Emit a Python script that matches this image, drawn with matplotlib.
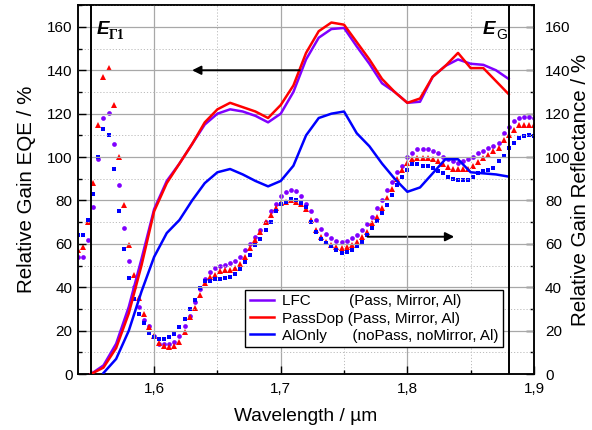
import matplotlib
matplotlib.use('Agg')
import matplotlib.pyplot as plt
from matplotlib.ticker import MultipleLocator, FuncFormatter
import numpy as np

plt.rcParams['font.family'] = ['Liberation Sans', 'DejaVu Sans']

# EQE curves (left axis), sampled every 10 nm
lam_eqe = [1.55, 1.56, 1.57, 1.58, 1.59, 1.60, 1.61, 1.62, 1.63, 1.64, 1.65, 1.66,
           1.67, 1.68, 1.69, 1.70, 1.71, 1.72, 1.73, 1.74, 1.75, 1.76, 1.77, 1.78,
           1.79, 1.80, 1.81, 1.82, 1.83, 1.84, 1.85, 1.86, 1.87, 1.88]
eqe_lfc = [0, 4, 14, 31, 53, 76, 89, 97, 106, 115, 120, 122, 121, 119, 116, 120, 130,
           145, 155, 159, 159.5, 151, 143, 134, 130, 125, 125.5, 137, 142, 145, 143,
           142.5, 140, 136]
eqe_passdop = [0, 3, 12, 28, 50, 75, 88, 97, 106, 116, 122, 125, 123, 121, 118, 124,
               133, 148, 158, 162, 161, 153, 145, 136, 130, 125, 127, 137, 142, 148,
               141, 141, 135, 129]
eqe_alonly = [np.nan, 0.5, 7, 20, 38, 54, 65, 71, 80, 88, 93, 94.5, 92, 89, 86.5, 89,
              96, 110, 118, 120, 121, 111, 105, 97, 90, 84, 86, 92.5, 99, 99, 93,
              92.5, 92, 91]

# reflectance (right axis), sampled every 4 nm from 1.54 to 1.90 um
lam_refl = np.round(np.arange(91) * 0.004 + 1.54, 3)
refl_lfc = [54, 54, 62, 77, 99, 118, 120.5, 106, 87, 67.5,
            52, 40, 31, 25, 22, 17.5, 14, 14, 14, 15,
            17.5, 22, 27, 33, 39, 44, 47, 49, 50, 50.4,
            51, 52, 54, 57, 60, 63, 66.5, 70, 75, 78.5,
            82, 84, 85, 84.5, 82, 78.5, 75, 71, 67, 64.7,
            62.8, 61.5, 61, 61.5, 62.8, 64, 66.5, 69, 72.6, 76.6,
            80.4, 84.6, 88.7, 93, 96, 100, 102, 103.5, 103.5, 103.5,
            102.6, 101.7, 100, 99, 98, 97.5, 98, 99, 100, 101.7,
            102.6, 104, 105, 106.6, 111, 114, 116.6, 118, 118.6, 118.6,
            118]
refl_passdop = [57, 58.7, 70, 88, 115, 137, 141, 124, 100, 78,
                59.6, 45.7, 35, 27.7, 21.7, 17.6, 14.3, 12.9, 12.5, 12.9,
                15, 19.4, 26.3, 30.5, 36.5, 42, 44.8, 45.8, 47.6, 48,
                48.1, 49, 50.8, 54, 58.2, 62, 65.6, 70, 73.5, 76.6,
                79, 79.5, 80, 79.5, 78.5, 76, 71, 66.5, 63.4, 61,
                59.6, 58.7, 58, 58.7, 59.6, 61, 63.4, 65.6, 69.8, 72.6,
                76.7, 81, 85.5, 90, 94, 97.5, 99, 99.5, 99.5, 99.4,
                99, 98, 96.6, 95.4, 94.6, 94.3, 94.3, 94.7, 96, 97.8,
                99.7, 101, 102.6, 104.4, 107.7, 110.4, 112.7, 114.6, 115, 115,
                114.6]
refl_alonly = [64, 64, 71, 83, 100, 113, 110, 94.6, 75, 57.6,
               44.4, 34.7, 27.7, 23.6, 19, 17, 16, 16, 17, 18.5,
               21.7, 25.4, 30, 34, 39.6, 43, 43, 43.8, 44, 44.4,
               44.8, 46, 48.5, 51.8, 55, 59.6, 62.4, 66.5, 70, 75,
               78.5, 79.5, 80.5, 80, 79, 77, 70, 65.6, 62.4, 60.5,
               59, 57, 56, 56.4, 57, 59, 61, 64, 67.5, 70.7,
               74.4, 78, 82.7, 87, 90.6, 94, 97, 97, 96, 95.7,
               95, 93.8, 92.7, 91, 90, 89.6, 89.6, 89.6, 91, 92.7,
               93.4, 94, 95, 98, 100.7, 104.4, 106.7, 108.6, 109.5, 110,
               109.5]

labels = ['LFC         (Pass, Mirror, Al)',
          'PassDop (Pass, Mirror, Al)',
          'AlOnly      (noPass, noMirror, Al)']
colors = ['#8000ff', '#ff0000', '#0000ff']
e_gamma1 = 1.55
e_g = 1.88

fig = plt.figure(figsize=(5.92, 4.30), dpi=100)
ax = fig.add_axes([0.132, 0.130, 0.770, 0.858])
ax2 = ax.twinx()

comma = FuncFormatter(lambda v, p: f'{v:.1f}'.replace('.', ','))

# grid
ax.set_axisbelow(True)
ax.grid(True, which='major', color='#a8a8a8', lw=0.9, ls='-')
ax.grid(True, which='minor', color='#bcbcbc', lw=0.7, ls=(0, (1.2, 2)))

# EQE lines
for y, c, lab in zip([eqe_lfc, eqe_passdop, eqe_alonly], colors, labels):
    ax.plot(lam_eqe, y, color=c, lw=1.8, label=lab, zorder=3)

# reflectance markers
ax2.plot(lam_refl, refl_lfc, ls='none', marker='o', ms=3.4, color=colors[0], mew=0)
ax2.plot(lam_refl, refl_passdop, ls='none', marker='^', ms=3.8, color=colors[1], mew=0)
ax2.plot(lam_refl, refl_alonly, ls='none', marker='s', ms=3.0, color=colors[2], mew=0)

for xv in (e_gamma1, e_g):
    ax.axvline(xv, color='k', lw=1.4, zorder=4)

ax.text(1.555, 156.6, 'E', fontsize=13.5, fontweight='bold', style='italic',
        ha='left', va='baseline')
ax.text(1.5640, 154.5, 'Γ1', fontsize=10, fontweight='bold',
        family=['Liberation Serif', 'DejaVu Serif'], ha='left', va='baseline')
ax.text(1.8597, 156.6, 'E', fontsize=13.5, fontweight='bold', style='italic',
        ha='left', va='baseline')
ax.text(1.8705, 154.5, 'G', fontsize=10, ha='left', va='baseline')

# arrows pointing to the relevant axis
ax.annotate('', xy=(1.63, 140), xytext=(1.715, 140),
            arrowprops=dict(arrowstyle='-|>', color='k', lw=1.4,
                            mutation_scale=13, shrinkA=0, shrinkB=0))
ax2.annotate('', xy=(1.837, 63.3), xytext=(1.7685, 63.3),
             arrowprops=dict(arrowstyle='-|>', color='k', lw=1.4,
                             mutation_scale=13, shrinkA=0, shrinkB=0))

for a in (ax, ax2):
    a.set_xlim(1.54, 1.90)
    a.set_ylim(0, 170)
    a.yaxis.set_major_locator(MultipleLocator(20))
    a.yaxis.set_minor_locator(MultipleLocator(10))
ax.xaxis.set_major_locator(MultipleLocator(0.1))
ax.xaxis.set_minor_locator(MultipleLocator(0.05))
ax.xaxis.set_major_formatter(comma)

ax.tick_params(which='both', direction='in', labelsize=11, top=False, right=False)
ax.tick_params(which='major', length=6, width=1)
ax.tick_params(which='minor', length=3, width=1)
ax.tick_params(axis='y', pad=4)
ax.tick_params(axis='x', pad=6)
ax2.tick_params(which='both', direction='in', labelsize=11, width=1)
ax2.tick_params(which='major', length=6, pad=8)
ax2.tick_params(which='minor', length=3)

for a in (ax, ax2):
    for s in a.spines.values():
        s.set_linewidth(1.1)

ax.set_xlabel('Wavelength / µm', fontsize=13.8, labelpad=8)
ax.set_ylabel('Relative Gain EQE / %', fontsize=14.8, labelpad=8)
ax2.set_ylabel('Relative Gain Reflectance / %', fontsize=14.8, labelpad=0)

leg = ax.legend(loc='lower right', bbox_to_anchor=(0.932, 0.073), borderaxespad=0,
                fontsize=11, handlelength=1.6, handletextpad=0.5, borderpad=0.3,
                labelspacing=0.2, fancybox=False, framealpha=1, edgecolor='k')
leg.get_frame().set_linewidth(1.0)
leg.set_zorder(10)
ax.set_zorder(ax2.get_zorder() + 1)
ax.patch.set_visible(False)

fig.savefig('out.png', dpi=100)
